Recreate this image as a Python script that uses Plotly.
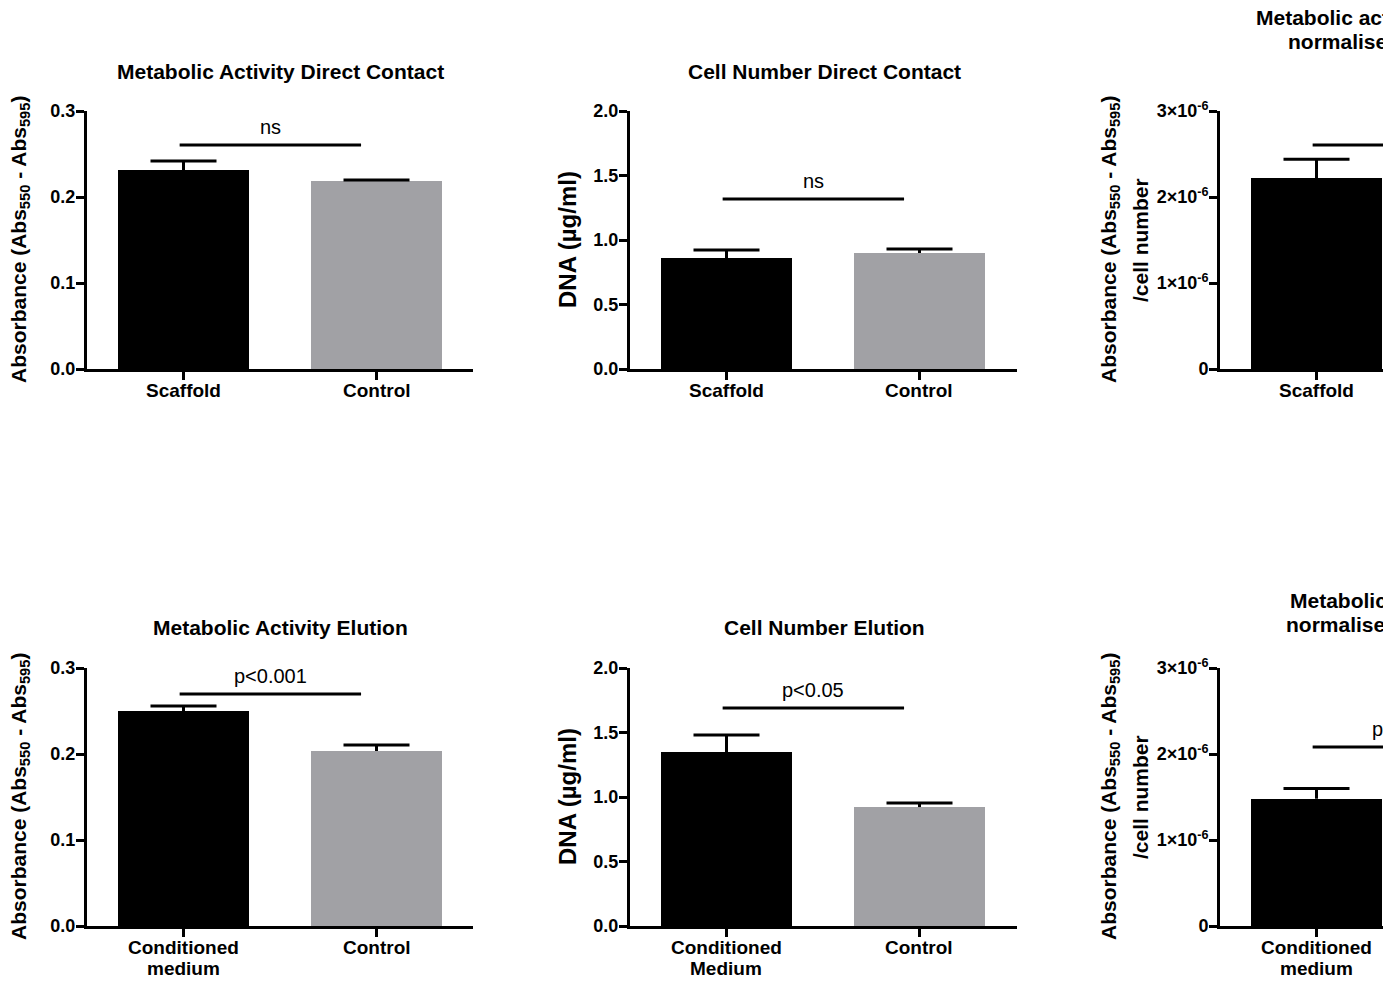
import plotly.graph_objects as go

W, H = 1383, 990

# ---------------- data ----------------
cats_dc = ["Scaffold", "Control"]
cats_el_a = ["Conditioned<br>medium", "Control"]
cats_el_b = ["Conditioned<br>Medium", "Control"]

ma_dc = [0.2314, 0.2186]
ma_dc_err = [0.0105, 0.0012]
cn_dc = [0.860, 0.899]
cn_dc_err = [0.062, 0.031]
man_dc = [2.22e-6, 2.00e-6]
man_dc_err = [0.22e-6, 0.10e-6]

ma_el = [0.250, 0.2035]
ma_el_err = [0.0058, 0.0070]
cn_el = [1.349, 0.922]
cn_el_err = [0.132, 0.031]
man_el = [1.48e-6, 1.00e-6]
man_el_err = [0.12e-6, 0.05e-6]

sig_ma_dc, sig_ma_dc_txt = 0.2605, "ns"
sig_cn_dc, sig_cn_dc_txt = 1.318, "ns"
sig_man_dc, sig_man_dc_txt = 2.605e-6, "ns"
sig_ma_el, sig_ma_el_txt = 0.2698, "p<0.001"
sig_cn_el, sig_cn_el_txt = 1.69, "p<0.05"
sig_man_el, sig_man_el_txt = 2.08e-6, "p<0.05"

ticks_abs = [0, 0.1, 0.2, 0.3]
ticks_abs_txt = ["0.0", "0.1", "0.2", "0.3"]
ticks_dna = [0, 0.5, 1.0, 1.5, 2.0]
ticks_dna_txt = ["0.0", "0.5", "1.0", "1.5", "2.0"]
ticks_norm = [0, 1e-6, 2e-6, 3e-6]
ticks_norm_txt = ["0", "1×10<sup>-6</sup>", "2×10<sup>-6</sup>", "3×10<sup>-6</sup>"]

titles = ["Metabolic Activity Direct Contact", "Cell Number Direct Contact",
          "Metabolic activity Direct Contact<br>normalised to cell number",
          "Metabolic Activity Elution", "Cell Number Elution",
          "Metabolic activity Elution<br>normalised to cell number"]
ytitle_abs = "Absorbance (Abs<sub>550</sub> - Abs<sub>595</sub>)"
ytitle_dna = "DNA (µg/ml)"
ytitle_norm = "Absorbance (Abs<sub>550</sub> - Abs<sub>595</sub>)<br>/cell number"

colors = ["#000000", "#A1A1A5"]
FONT = "Liberation Sans, Arial, Helvetica, sans-serif"

# ---------------- layout geometry (pixels) ----------------
def px_x(p):
    return p / W

def px_y(p):
    return 1 - p / H

col_x = [(87, 473), (630, 1017), (1220, 1383)]
row_y = [(111, 369), (668, 926)]
PX_PER_UNIT = 193.0
CAP_HALF = 33 / PX_PER_UNIT   # error-bar cap half width (x units)
BAR_W = 0.68
SIG_X = (-0.02, 0.92)

panels = [
    dict(cats=cats_dc, v=ma_dc, e=ma_dc_err, rng=[0, 0.3], tv=ticks_abs, tt=ticks_abs_txt,
         sig=sig_ma_dc, st=sig_ma_dc_txt, yt=ytitle_abs, ytsize=21, col=0, row=0),
    dict(cats=cats_dc, v=cn_dc, e=cn_dc_err, rng=[0, 2.0], tv=ticks_dna, tt=ticks_dna_txt,
         sig=sig_cn_dc, st=sig_cn_dc_txt, yt=ytitle_dna, ytsize=24, col=1, row=0),
    dict(cats=cats_dc, v=man_dc, e=man_dc_err, rng=[0, 3e-6], tv=ticks_norm, tt=ticks_norm_txt,
         sig=sig_man_dc, st=sig_man_dc_txt, yt=ytitle_norm, ytsize=21, col=2, row=0),
    dict(cats=cats_el_a, v=ma_el, e=ma_el_err, rng=[0, 0.3], tv=ticks_abs, tt=ticks_abs_txt,
         sig=sig_ma_el, st=sig_ma_el_txt, yt=ytitle_abs, ytsize=21, col=0, row=1),
    dict(cats=cats_el_b, v=cn_el, e=cn_el_err, rng=[0, 2.0], tv=ticks_dna, tt=ticks_dna_txt,
         sig=sig_cn_el, st=sig_cn_el_txt, yt=ytitle_dna, ytsize=24, col=1, row=1),
    dict(cats=cats_el_a, v=man_el, e=man_el_err, rng=[0, 3e-6], tv=ticks_norm, tt=ticks_norm_txt,
         sig=sig_man_el, st=sig_man_el_txt, yt=ytitle_norm, ytsize=21, col=2, row=1),
]

# title first-line centre (px) and line step
title_pos = [(280, 71), (824, 71), (1418, 17), (280, 627), (824, 627), (1416, 600)]
TITLE_STEP = 24.5
ytitle_x = [20, 567, 1110]
YTITLE_STEP = 30
CAT_LINE1 = [390, 947]
CAT_STEP = 21

fig = go.Figure()
annotations = []

for i, p in enumerate(panels):
    n = i + 1
    xa = "x" if n == 1 else f"x{n}"
    ya = "y" if n == 1 else f"y{n}"
    x0p, x1p = col_x[p["col"]]
    y0p, y1p = row_y[p["row"]]
    xr = [-0.5, -0.5 + (x1p - x0p) / PX_PER_UNIT]
    xpos = list(range(len(p["cats"])))

    # error bars (upper only) built from the values
    ex, ey = [], []
    for xi, v, e in zip(xpos, p["v"], p["e"]):
        ex += [xi, xi, None, xi - CAP_HALF, xi + CAP_HALF, None]
        ey += [v, v + e, None, v + e, v + e, None]
    fig.add_trace(go.Scatter(
        x=ex, y=ey, xaxis=xa, yaxis=ya, mode="lines",
        line=dict(color="black", width=3), showlegend=False, hoverinfo="skip"))

    fig.add_trace(go.Bar(
        x=xpos, y=p["v"], xaxis=xa, yaxis=ya, width=BAR_W,
        marker=dict(color=colors, line=dict(width=0)),
        showlegend=False, hoverinfo="skip"))

    fig.add_trace(go.Scatter(
        x=list(SIG_X), y=[p["sig"], p["sig"]], xaxis=xa, yaxis=ya,
        mode="lines", line=dict(color="black", width=3),
        showlegend=False, hoverinfo="skip"))

    ax_common = dict(showline=True, linewidth=3, linecolor="black", ticks="outside",
                     ticklen=8, tickwidth=3, tickcolor="black", showgrid=False,
                     zeroline=False, fixedrange=True, automargin=False)
    fig.update_layout(**{
        ("xaxis" if n == 1 else f"xaxis{n}"): dict(
            domain=[px_x(x0p), px_x(x1p)], range=xr, anchor=ya,
            tickmode="array", tickvals=xpos, ticktext=p["cats"],
            showticklabels=False, **ax_common),
        ("yaxis" if n == 1 else f"yaxis{n}"): dict(
            domain=[px_y(y1p), px_y(y0p)], range=p["rng"], anchor=xa,
            tickmode="array", tickvals=p["tv"], ticktext=p["tt"],
            ticklabelstandoff=-3,
            tickfont=dict(family=FONT, size=18, color="black", weight="bold"),
            **ax_common),
    })

    # category labels (one annotation per line for tight line spacing)
    for xi, cat in zip(xpos, p["cats"]):
        cx_px = x0p + (xi - xr[0]) * PX_PER_UNIT
        if cx_px > W + 60:
            continue
        for k, line in enumerate(cat.split("<br>")):
            annotations.append(dict(
                x=px_x(cx_px), y=px_y(CAT_LINE1[p["row"]] + k * CAT_STEP),
                xref="paper", yref="paper", text=line, showarrow=False,
                xanchor="center", yanchor="middle",
                font=dict(family=FONT, size=19, color="black", weight="bold")))

    # significance text
    sx_px = x0p + (sum(SIG_X) / 2 - xr[0]) * PX_PER_UNIT
    sy_px = y1p - (p["sig"] - p["rng"][0]) / (p["rng"][1] - p["rng"][0]) * (y1p - y0p)
    annotations.append(dict(x=px_x(sx_px), y=px_y(sy_px - 18), xref="paper", yref="paper",
                            text=p["st"], showarrow=False, xanchor="center", yanchor="middle",
                            font=dict(family=FONT, size=20, color="black")))

    # panel title
    tx, ty = title_pos[i]
    for k, line in enumerate(titles[i].split("<br>")):
        annotations.append(dict(x=px_x(tx), y=px_y(ty + k * TITLE_STEP), xref="paper", yref="paper",
                                text=line, showarrow=False, xanchor="center", yanchor="middle",
                                font=dict(family=FONT, size=21, color="black", weight="bold")))

    # y-axis title
    for k, line in enumerate(p["yt"].split("<br>")):
        annotations.append(dict(x=px_x(ytitle_x[p["col"]] + k * YTITLE_STEP), y=px_y((y0p + y1p) / 2),
                                xref="paper", yref="paper", text=line, textangle=-90,
                                showarrow=False, xanchor="center", yanchor="middle",
                                font=dict(family=FONT, size=p["ytsize"], color="black", weight="bold")))

fig.update_layout(width=W, height=H,
                  margin=dict(l=0, r=0, t=0, b=0, pad=0, autoexpand=False),
                  paper_bgcolor="white", plot_bgcolor="white",
                  annotations=annotations, bargap=0)

fig.write_html("out.html", config={"displayModeBar": False})
